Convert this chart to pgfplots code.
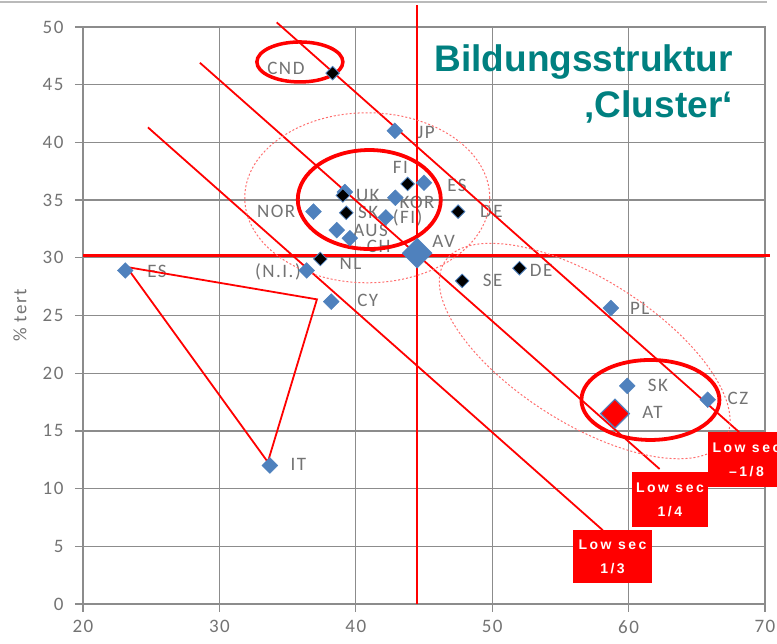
\documentclass[border=0pt]{standalone}
\usepackage{fontspec}
\setmainfont{Carlito}[LetterSpace=8]
\newfontfamily\arialfont{Liberation Sans}
\newfontfamily\boxfont{Liberation Sans}[LetterSpace=18]
\usepackage{pgfplots}
\pgfplotsset{compat=1.18}
\usetikzlibrary{shapes.geometric}
\definecolor{xblue}{RGB}{79,129,189}
\definecolor{xgrid}{RGB}{140,140,140}
\definecolor{xtext}{RGB}{115,115,115}
\definecolor{xteal}{RGB}{0,128,128}
\definecolor{xred}{RGB}{255,0,0}
\definecolor{xdot}{RGB}{255,110,110}

\pgfplotstableread{
x y
23.1 28.9
33.7 12.0
38.2 26.2
36.4 28.9
36.9 34.0
38.6 32.4
39.56 31.7
39.2 35.7
42.2 33.5
42.9 35.2
45.0 36.5
42.86 41.0
58.7 25.65
59.9 18.9
65.8 17.7
}\bluedata

\pgfplotstableread{
x y
38.3 46.0
39.05 35.4
39.3 33.9
43.8 36.4
47.5 34.0
37.4 29.9
47.8 28.0
52.0 29.1
}\blackdata

\begin{document}
\begin{tikzpicture}
\useasboundingbox (-83pt,-40pt) rectangle (694pt,604pt);
\draw[xgrid!60, line width=1.2pt] (-83pt,602pt) -- (684pt,602pt);
\begin{axis}[
  at={(0,0)}, anchor=south west,
  scale only axis, width=682pt, height=577pt,
  xmin=20, xmax=70, ymin=0, ymax=50,
  xtick={20,30,...,70}, ytick={0,5,...,50},
  grid=major,
  major grid style={xgrid, line width=1.3pt},
  axis line style={xgrid, line width=1.5pt},
  tick style={xgrid, line width=1.3pt},
  tick pos=left, tick align=outside, major tick length=8pt,
  /pgf/number format/assume math mode=true,
  ticklabel style={font=\fontsize{19}{21}\selectfont, text=xtext},
  xticklabel style={yshift=-5pt},
  yticklabel style={xshift=-8pt},
  clip=false,
]
% labels
\begin{scope}[every node/.style={font=\fontsize{19}{21}\selectfont, text=xtext, anchor=west, inner sep=0pt}]
\node at (axis cs:33.5,46.4) {CND};
\node at (axis cs:44.5,40.9) {JP};
\node at (axis cs:42.7,37.8) {FI};
\node at (axis cs:46.7,36.3) {ES};
\node at (axis cs:40.0,35.4) {UK};
\node at (axis cs:43.2,34.8) {KOR};
\node at (axis cs:32.75,34.0) {NOR};
\node at (axis cs:40.15,33.9) {SK};
\node at (axis cs:42.7,33.5) {(FI)};
\node at (axis cs:49.1,34.0) {DE};
\node at (axis cs:39.8,32.4) {AUS};
\node at (axis cs:40.8,31.0) {CH};
\node at (axis cs:45.6,31.4) {AV};
\node at (axis cs:38.8,29.5) {NL};
\node at (axis cs:32.6,28.8) {(N.I.)};
\node at (axis cs:40.1,26.3) {CY};
\node at (axis cs:49.3,28.0) {SE};
\node at (axis cs:52.75,28.9) {DE};
\node at (axis cs:60.1,25.65) {PL};
\node at (axis cs:61.4,18.9) {SK};
\node at (axis cs:61.0,16.6) {AT};
\node at (axis cs:67.25,17.8) {CZ};
\node at (axis cs:24.7,28.8) {ES};
\node at (axis cs:35.2,12.1) {IT};
\end{scope}
% crosshair
\addplot[xred, line width=2.2pt, forget plot] coordinates {(20,30.2) (70.4,30.2)};
\addplot[xred, line width=2pt, forget plot] coordinates {(44.5,0) (44.5,51.9)};
% diagonals
\addplot[xred, line width=1.8pt] coordinates {(34.2,50.4) (68.1,14.9)};
\addplot[xred, line width=1.8pt] coordinates {(28.57,46.9) (62.27,11.7)};
\addplot[xred, line width=1.8pt] coordinates {(24.76,41.3) (58.1,6.4)};
% triangle
\addplot[xred, line width=1.8pt] coordinates {(23.2,29.2) (37.15,26.4) (33.55,12.3) (23.2,29.2)};
% dotted ellipses
\node[draw=xdot, dash pattern=on 2pt off 2pt, line width=1pt, ellipse, inner sep=0pt, minimum width=245pt, minimum height=170pt] at (axis cs:40.84,35.2) {};
\node[draw=xdot, dash pattern=on 2pt off 2pt, line width=1pt, ellipse, inner sep=0pt, minimum width=332pt, minimum height=144pt, rotate=-32.4] at (axis cs:56.78,21.92) {};
% markers
\addplot[only marks, mark=square*, mark size=5.6pt, mark options={rotate=45, fill=xblue, draw=xblue}] table {\bluedata};
\addplot[only marks, mark=square*, mark size=4.8pt, mark options={rotate=45, fill=black, draw=xblue, line width=0.8pt}] table {\blackdata};
\addplot[only marks, mark=square*, mark size=10.6pt, mark options={rotate=45, fill=xblue, draw=xblue}] coordinates {(44.5,30.4)};
\addplot[only marks, mark=square*, mark size=10.2pt, mark options={rotate=45, fill=xred, draw=xblue, line width=1.2pt}] coordinates {(59.0,16.5)};
% solid ellipses
\node[draw=xred, line width=3.5pt, ellipse, inner sep=0pt, minimum width=86pt, minimum height=40pt] at (axis cs:35.9,46.97) {};
\node[draw=xred, line width=3.8pt, ellipse, inner sep=0pt, minimum width=143pt, minimum height=99pt] at (axis cs:40.99,35.05) {};
\node[draw=xred, line width=3.8pt, ellipse, inner sep=0pt, minimum width=138pt, minimum height=80pt] at (axis cs:61.6,17.68) {};
% boxes
\begin{scope}[every node/.style={fill=xred, text=white, font=\boxfont\bfseries\fontsize{14}{24}\selectfont, align=center, inner sep=0pt}]
\node[minimum width=77pt, minimum height=55pt] at (axis cs:68.64,12.52) {Low sec\\–1/8};
\node[minimum width=76pt, minimum height=55pt] at (axis cs:63.03,9.06) {Low sec\\1/4};
\node[minimum width=79pt, minimum height=53pt] at (axis cs:58.82,4.12) {Low sec\\1/3};
\end{scope}
% title
\node[anchor=base east, inner sep=0pt, text=xteal, font=\arialfont\bfseries\fontsize{37}{40}\selectfont] at (axis cs:67.65,46.1) {Bildungsstruktur};
\node[anchor=base east, inner sep=0pt, text=xteal, font=\arialfont\bfseries\fontsize{37}{40}\selectfont] at (axis cs:67.65,42.2) {‚Cluster‘};
% y label
\node[rotate=90, text=xtext, font=\fontsize{19}{21}\selectfont] at ([xshift=-63pt]rel axis cs:0,0.5) {\% tert};
\end{axis}
\end{tikzpicture}
\end{document}
